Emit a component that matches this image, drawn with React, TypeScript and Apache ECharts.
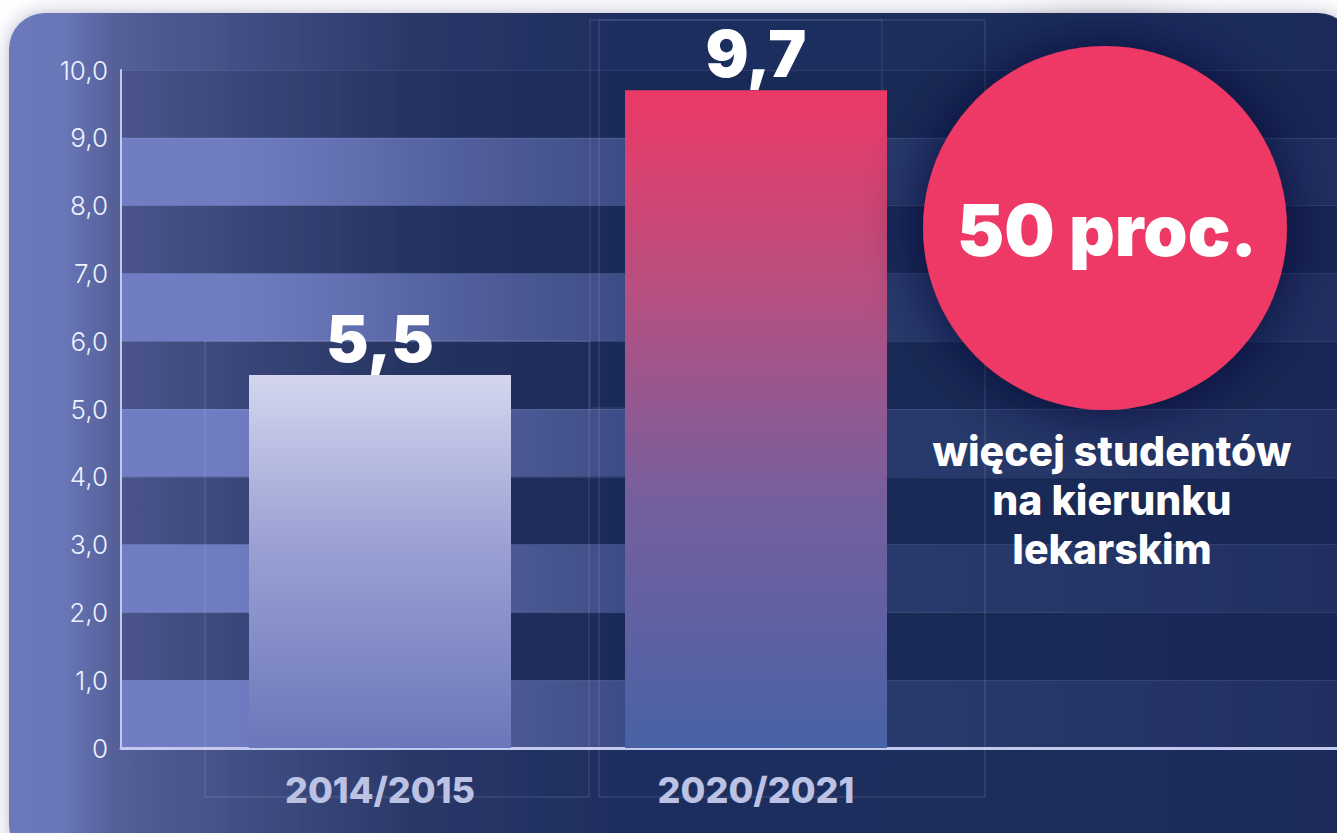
import React, { useEffect, useRef } from "react";
import * as echarts from "echarts";

const categories = ["2014/2015", "2020/2021"];
const values = [5.5, 9.7];
const yTickLabels = ["0", "1,0", "2,0", "3,0", "4,0", "5,0", "6,0", "7,0", "8,0", "9,0", "10,0"];
const circleHeadline = "50 proc.";
const circleCaption = ["więcej studentów", "na kierunku", "lekarskim"];

const FONT = "Inter, 'Noto Sans', sans-serif";

export default function App() {
  const ref = useRef<HTMLDivElement>(null);

  useEffect(() => {
    if (!ref.current) return;
    const chart = echarts.init(ref.current, null, { renderer: "svg" });
    const LG = echarts.graphic.LinearGradient;

    const barGradients = [
      new LG(0, 0, 0, 1, [
        { offset: 0, color: "#d4d6ee" },
        { offset: 0.45, color: "#9ba1d3" },
        { offset: 1, color: "#6b77ba" },
      ]),
      new LG(0, 0, 0, 1, [
        { offset: 0, color: "#ec3966" },
        { offset: 0.3, color: "#b84f80" },
        { offset: 0.62, color: "#765f9d" },
        { offset: 1, color: "#4862a6" },
      ]),
    ];

    const lightBand = new LG(0, 0, 1, 0, [
      { offset: 0, color: "rgba(112,125,194,1)" },
      { offset: 0.09, color: "rgba(112,125,194,0.98)" },
      { offset: 0.3, color: "rgba(108,120,190,0.58)" },
      { offset: 0.6, color: "rgba(100,112,180,0.18)" },
      { offset: 1, color: "rgba(100,112,180,0.07)" },
    ]);
    const darkBand = "rgba(12,18,48,0.12)";

    const panelGradient = new LG(0, 0, 1, 0, [
      { offset: 0, color: "#6c79bc" },
      { offset: 0.04, color: "#6976b8" },
      { offset: 0.08, color: "#545f98" },
      { offset: 0.2, color: "#3c4a7e" },
      { offset: 0.3, color: "#2a3868" },
      { offset: 0.45, color: "#1f2e5e" },
      { offset: 1, color: "#1e2c5a" },
    ]);

    const option: any = {
      animation: false,
      grid: [
        { left: 192, top: 70, width: 752, height: 678 },
        { left: 121, top: 70, width: 1240, height: 678 },
      ],
      xAxis: [
        {
          gridIndex: 0,
          type: "category",
          data: categories,
          axisLine: { show: false },
          axisTick: { show: false },
          axisLabel: {
            color: "#bcc2e4",
            fontSize: 36,
            fontWeight: 800,
            fontFamily: FONT,
            margin: 24,
          },
          z: 5,
        },
        {
          gridIndex: 1,
          type: "category",
          data: [""],
          axisLine: { show: true, lineStyle: { color: "#c3c9ee", width: 3 } },
          axisTick: { show: false },
          axisLabel: { show: false },
          splitLine: { show: false },
          z: 5,
        },
      ],
      yAxis: [
        { gridIndex: 0, type: "value", min: 0, max: 10, interval: 1, show: false },
        {
          gridIndex: 1,
          type: "value",
          min: 0,
          max: 10,
          interval: 1,
          axisLine: { show: true, lineStyle: { color: "#c3c9ee", width: 2 } },
          axisTick: { show: false },
          axisLabel: {
            formatter: (v: number) => yTickLabels[Math.round(v)] ?? "",
            color: "#f0f2ff",
            fontSize: 26,
            fontWeight: 300,
            fontFamily: FONT,
            margin: 13,
          },
          splitLine: { show: true, lineStyle: { color: "rgba(200,210,255,0.12)", width: 1 } },
          splitArea: { show: true, areaStyle: { color: [lightBand, darkBand] } },
        },
      ],
      graphic: [
        {
          type: "rect",
          z: -100,
          shape: { x: 9, y: 13, width: 1345, height: 848, r: 36 },
          style: {
            fill: panelGradient,
            shadowBlur: 18,
            shadowColor: "rgba(40,50,110,0.35)",
          },
        },
        {
          type: "rect",
          z: 1,
          shape: { x: 205, y: 341, width: 384, height: 456 },
          style: { fill: "none", stroke: "rgba(190,200,240,0.22)", lineWidth: 1 },
        },
        {
          type: "rect",
          z: 1,
          shape: { x: 599, y: 20, width: 386, height: 777 },
          style: { fill: "none", stroke: "rgba(190,200,240,0.22)", lineWidth: 1 },
        },
        {
          type: "rect",
          z: 1,
          shape: { x: 590, y: 20, width: 292, height: 388 },
          style: { fill: "none", stroke: "rgba(190,200,240,0.18)", lineWidth: 1 },
        },
        {
          type: "circle",
          z: 100,
          shape: { cx: 1105, cy: 228, r: 182 },
          style: {
            fill: "#ee3766",
            shadowBlur: 60,
            shadowColor: "rgba(12,16,45,0.75)",
          },
        },
        {
          type: "text",
          z: 101,
          x: 1107,
          y: 230,
          style: {
            text: circleHeadline,
            fill: "#ffffff",
            fontSize: 71,
            fontWeight: 900,
            fontFamily: FONT,
            align: "center",
            verticalAlign: "middle",
          },
        },
        ...circleCaption.map((t, i) => ({
          type: "text",
          z: 101,
          x: 1112,
          y: 451 + i * 49,
          style: {
            text: t,
            fill: "#ffffff",
            fontSize: 41,
            fontWeight: 800,
            fontFamily: FONT,
            align: "center",
            verticalAlign: "middle",
          },
        })),
      ],
      series: [
        {
          type: "bar",
          xAxisIndex: 0,
          yAxisIndex: 0,
          barWidth: 262,
          z: 10,
          data: values.map((v, i) => ({ value: v, itemStyle: { color: barGradients[i] } })),
          label: {
            show: true,
            position: "top",
            distance: 5,
            formatter: (p: any) => String(p.value).replace(".", ","),
            color: "#ffffff",
            fontSize: 64,
            fontWeight: 900,
            fontFamily: FONT,
          },
        },
      ],
    };

    chart.setOption(option);
    return () => chart.dispose();
  }, []);

  return (
    <div
      style={{ position: "absolute", left: 0, top: 0, width: 1337, height: 833, background: "#ffffff", overflow: "hidden" }}
    >
      <div ref={ref} style={{ width: 1337, height: 833 }} />
    </div>
  );
}
